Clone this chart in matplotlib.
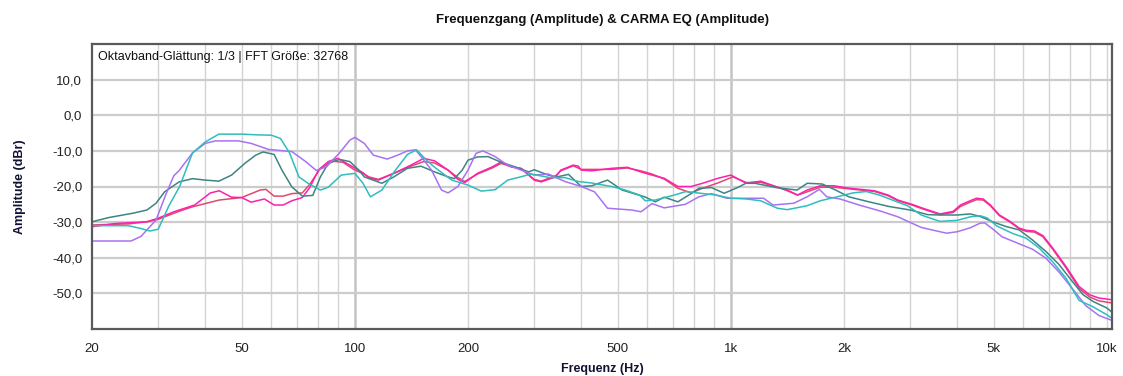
import matplotlib
matplotlib.use("Agg")
import matplotlib.pyplot as plt
from matplotlib.ticker import FixedLocator, NullFormatter

plt.rcParams['font.family'] = ['Liberation Sans', 'DejaVu Sans']

# Frequenzen (Hz) und Pegel (dBr)
cyan_f = [20, 25, 27, 28.5, 30, 32, 34.2, 37, 40, 43.5, 50, 55, 60, 63.4, 67, 71, 75.6, 81, 85, 92, 100,
          105, 110, 118, 127, 138, 146, 150, 155, 163, 181, 200, 217, 236, 255, 276, 294, 330, 362, 393,
          425, 482, 524, 572, 592, 630, 707, 761, 815, 912, 1000, 1099, 1200, 1330, 1413, 1594, 1730,
          1950, 2112, 2290, 2500, 2719, 2950, 3209, 3600, 4000, 4334, 4600, 4800, 5100, 5620, 6100,
          6610, 7170, 7780, 8440, 9160, 10000, 10320]
cyan_db = [-31.0, -31.0, -31.8, -32.5, -32.0, -25.5, -20.0, -10.6, -7.5, -5.3, -5.3, -5.5, -5.6, -6.5,
           -10.5, -17.3, -19.3, -21.0, -20.2, -16.8, -16.3, -19.0, -22.9, -21.0, -16.0, -11.0, -9.7,
           -11.0, -12.6, -14.6, -18.2, -19.6, -21.3, -20.9, -18.2, -17.3, -16.5, -17.5, -17.5, -18.6,
           -19.0, -20.0, -21.0, -22.4, -24.0, -23.8, -22.4, -21.4, -21.8, -22.4, -23.3, -23.5, -24.0,
           -26.1, -26.5, -25.4, -24.0, -22.7, -21.8, -21.4, -22.5, -24.0, -25.4, -28.0, -29.8, -29.5,
           -28.5, -28.2, -28.8, -31.1, -33.2, -34.5, -37.3, -41.1, -45.7, -52.0, -53.7, -56.0, -57.0]

purple_f = [20, 25.4, 27, 29.6, 31.5, 33, 34.1, 37, 40, 42.6, 49, 53, 59, 68, 74, 79, 84, 91, 97, 100,
            106, 112, 122, 130, 138, 145, 150, 160, 170, 177, 188, 200, 210, 219, 236, 255, 277, 300,
            327, 362, 400, 434, 470, 545, 577, 617, 665, 757, 822, 888, 976, 1099, 1222, 1295, 1470,
            1595, 1720, 1800, 1950, 2210, 2500, 2780, 3210, 3600, 3750, 4000, 4330, 4600, 4730, 4970,
            5260, 5850, 6340, 6880, 7460, 8100, 8780, 9520, 10320]
purple_db = [-35.3, -35.3, -34.0, -29.4, -22.0, -17.0, -15.5, -10.6, -7.9, -7.2, -7.2, -7.9, -9.6,
             -10.2, -13.0, -15.5, -14.5, -10.6, -7.0, -6.2, -7.9, -11.2, -12.3, -11.2, -10.0, -9.7,
             -11.6, -15.4, -21.0, -21.8, -20.0, -15.4, -10.7, -10.0, -11.6, -14.0, -15.4, -16.8, -16.5,
             -18.6, -20.0, -21.5, -26.1, -26.6, -27.1, -24.8, -26.0, -25.0, -22.9, -22.0, -23.3, -23.3,
             -23.3, -25.2, -24.7, -22.9, -20.8, -22.9, -23.5, -25.3, -26.9, -28.5, -31.5, -32.7, -33.1,
             -32.7, -31.6, -30.3, -30.2, -31.9, -34.1, -36.1, -37.6, -40.1, -44.0, -48.7, -53.4, -56.2,
             -57.6]

dteal_f = [20, 22.2, 25.7, 28, 29.6, 31.2, 34.1, 37, 40, 43.5, 47, 51, 54.5, 57, 61, 64, 68, 72.5, 77.3,
           81, 85, 91, 97, 102.5, 106, 118, 127, 138, 150, 163, 177, 184, 193, 200, 212, 226, 245, 267,
           290, 300, 327, 345, 370, 400, 427, 470, 514, 590, 630, 665, 723, 784, 823, 888, 960, 1042,
           1096, 1160, 1320, 1500, 1597, 1750, 1900, 2060, 2330, 2630, 3000, 3340, 3600, 4000, 4330,
           4600, 4970, 5380, 5850, 6340, 6880, 7460, 8100, 8650, 9200, 10000, 10320]
dteal_db = [-29.9, -28.7, -27.5, -26.6, -24.7, -21.5, -18.7, -17.8, -18.2, -18.5, -16.8, -13.5, -11.2,
            -10.3, -11.0, -15.4, -20.1, -22.7, -22.5, -17.3, -13.5, -12.4, -13.0, -15.4, -17.3, -19.1,
            -17.3, -14.9, -14.3, -15.9, -17.3, -17.8, -15.4, -12.6, -11.7, -11.6, -13.2, -14.5, -15.9,
            -15.3, -16.8, -17.3, -16.6, -20.0, -19.8, -18.2, -21.0, -22.9, -24.3, -23.0, -24.3, -22.0,
            -20.5, -20.3, -21.9, -20.3, -19.1, -19.1, -20.3, -21.0, -19.1, -19.3, -21.0, -22.9, -24.3,
            -25.6, -26.6, -27.9, -28.0, -28.0, -27.7, -28.4, -29.9, -31.2, -32.2, -35.0, -38.2, -41.9,
            -46.7, -50.4, -52.3, -54.1, -55.3]

pink_f = [20, 23, 28, 30, 33, 37.5, 41.3, 43.6, 47, 50, 53, 57.5, 61, 64.5, 68, 72.5, 76, 80, 85, 90, 97,
          105, 109, 115.5, 127, 141, 152.5, 163, 177, 188, 196, 212, 232, 245, 261, 277, 300, 313, 342,
          353, 381, 393, 400, 427, 482, 530, 576, 617, 665, 723, 784, 841, 924, 1000, 1100, 1200, 1340,
          1413, 1505, 1595, 1730, 1880, 2040, 2210, 2410, 2620, 2780, 3030, 3240, 3600, 3900, 4080,
          4330, 4500, 4690, 4900, 5180, 5510, 5850, 6100, 6420, 6760, 7180, 7780, 8440, 9000, 9520,
          10320]
pink_db = [-31.3, -30.4, -29.9, -28.9, -27.1, -25.2, -21.8, -21.2, -23.0, -23.1, -24.4, -23.5, -25.2,
           -25.2, -24.0, -23.1, -20.2, -15.4, -13.0, -12.1, -14.0, -16.1, -17.6, -18.2, -16.3, -14.0,
           -12.1, -12.8, -15.4, -18.0, -18.9, -16.3, -14.5, -13.1, -14.5, -14.9, -18.2, -18.7, -17.3,
           -15.4, -14.0, -14.3, -15.4, -15.6, -14.9, -14.6, -15.9, -16.8, -17.7, -20.0, -20.0, -19.1,
           -17.7, -16.8, -19.1, -18.5, -20.3, -21.0, -22.4, -21.0, -19.8, -19.8, -20.4, -20.8, -21.2,
           -22.4, -23.8, -25.0, -26.1, -27.7, -27.0, -25.2, -24.0, -23.3, -23.5, -25.2, -28.0, -29.7,
           -31.7, -32.3, -32.5, -33.8, -37.3, -42.4, -48.1, -50.4, -51.3, -51.8]

red_f = [20, 25, 28, 30, 34, 37, 43.6, 50, 56, 58, 61, 64.5, 68, 72.5, 76, 81, 87.5, 93, 100, 105, 109,
         115.5, 127, 141, 152.5, 163, 177, 188, 196, 212, 232, 245, 261, 277, 300, 313, 342, 353, 381,
         400, 427, 482, 530, 576, 617, 665, 723, 784, 841, 924, 1012, 1100, 1200, 1340, 1413, 1505,
         1595, 1730, 1880, 2040, 2210, 2410, 2620, 2780, 3030, 3240, 3600, 3900, 4080, 4330, 4500,
         4690, 4900, 5180, 5510, 5850, 6100, 6420, 6760, 7180, 7780, 8440, 9000, 9520, 10320]
red_db = [-30.8, -30.5, -29.9, -29.2, -27.0, -25.7, -23.8, -23.1, -21.0, -20.8, -22.7, -22.7, -22.0,
          -21.8, -19.3, -14.9, -12.9, -13.2, -15.4, -16.3, -17.3, -18.0, -16.3, -14.3, -13.0, -13.4,
          -15.4, -17.5, -18.6, -16.5, -14.8, -13.5, -14.5, -15.0, -18.0, -18.5, -17.0, -15.6, -14.2,
          -15.2, -15.2, -15.2, -14.8, -15.6, -16.5, -17.9, -20.5, -21.8, -20.5, -19.0, -17.3, -18.9,
          -18.8, -20.3, -21.2, -22.4, -21.5, -20.2, -20.2, -20.6, -21.0, -21.4, -22.6, -24.0, -25.2,
          -26.3, -27.9, -27.3, -25.6, -24.4, -23.7, -23.8, -25.4, -28.2, -29.9, -31.9, -32.6, -32.8,
          -34.1, -37.6, -42.8, -48.6, -51.0, -52.1, -52.7]

x_ticks = [20, 50, 100, 200, 500, 1000, 2000, 5000, 10000]
x_labels = ['20', '50', '100', '200', '500', '1k', '2k', '5k', '10k']
y_ticks = [10, 0, -10, -20, -30, -40, -50]
y_labels = ['10,0', '0,0', '-10,0', '-20,0', '-30,0', '-40,0', '-50,0']

fig = plt.figure(figsize=(11.23, 3.76), dpi=100)
ax = fig.add_axes([92 / 1123, 1 - 329 / 376, (1112 - 92) / 1123, (329 - 44) / 376])

ax.set_xscale('log')
ax.set_xlim(20, 10320)
ax.set_ylim(-60, 20)

# Gitter
minor = [m * d for d in (10, 100, 1000) for m in range(2, 10)] + [10000]
for f in minor:
    if 20 < f < 10320:
        ax.axvline(f, color='#d4d4d4', lw=1.0, zorder=0)
for f in (100, 1000):
    ax.axvline(f, color='#c4c4c4', lw=1.8, zorder=0)
for v in y_ticks:
    ax.axhline(v, color='#cccccc', lw=1.6, zorder=0)

ax.plot(red_f, red_db, color='#de4a6e', lw=1.1)
ax.plot(pink_f, pink_db, color='#ff1fae', lw=1.1)
ax.plot(dteal_f, dteal_db, color='#3e8484', lw=1.1)
ax.plot(purple_f, purple_db, color='#a872f2', lw=1.1)
ax.plot(cyan_f, cyan_db, color='#2fbdbd', lw=1.1)

ax.xaxis.set_major_locator(FixedLocator(x_ticks))
ax.xaxis.set_minor_formatter(NullFormatter())
ax.set_xticks(x_ticks)
ax.set_xticklabels(x_labels)
ax.set_yticks(y_ticks)
ax.set_yticklabels(y_labels)
ax.tick_params(axis='both', which='both', length=0, labelsize=9.5, colors='#222222')
ax.tick_params(axis='x', pad=10)
ax.tick_params(axis='y', pad=7)
ax.minorticks_off()

for s in ax.spines.values():
    s.set_color('#5a5a5a')
    s.set_linewidth(1.6)

ax.set_title('Frequenzgang (Amplitude) & CARMA EQ (Amplitude)', fontsize=9.5,
             fontweight='bold', pad=14.8, color='#111111')
ax.set_xlabel('Frequenz (Hz)', fontsize=9, fontweight='bold', labelpad=6, color='#111133')
ax.set_ylabel('Amplitude (dBr)', fontsize=9, fontweight='bold', labelpad=18.5, color='#111133')
ax.text(0.006, 0.975, 'Oktavband-Glättung: 1/3 | FFT Größe: 32768', transform=ax.transAxes,
        fontsize=9, va='top', ha='left', color='#111111')

fig.savefig('out.png', dpi=100)
